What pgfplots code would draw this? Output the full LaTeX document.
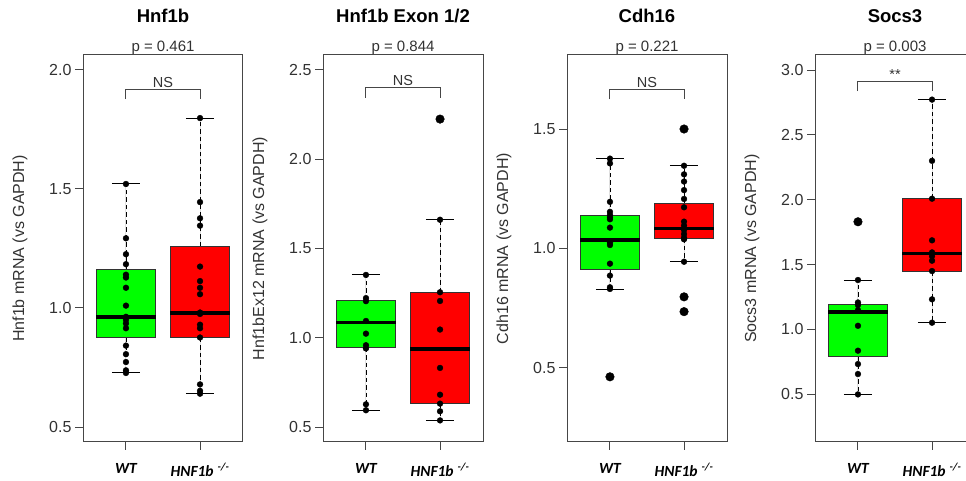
\documentclass[border=0pt]{standalone}
\usepackage{pgfplots}
\pgfplotsset{compat=1.18}
\usepgfplotslibrary{statistics}
\usepackage{fontspec}
\setmainfont{Liberation Sans}
\newfontfamily\carlito{Carlito}

\definecolor{wtgreen}{RGB}{0,255,0}
\definecolor{kored}{RGB}{255,0,0}
\definecolor{framegray}{RGB}{70,70,70}
\definecolor{txtgray}{RGB}{50,50,50}

\pgfplotsset{
  panel/.style={
    scale only axis, width=160pt, height=387pt,
    anchor=south west,
    xmin=0.42, xmax=2.58,
    xtick={1,2},
    xticklabels={WT, HNF1b\hspace{4pt}\textsuperscript{-/-}},
    xtick pos=left, ytick pos=left,
    tick align=outside, major tick length=8pt,
    axis line style={framegray, line width=1pt},
    every tick/.style={framegray, line width=1pt},
    yticklabel style={txtgray, font=\fontsize{16}{16}\selectfont,
      /pgf/number format/fixed, /pgf/number format/fixed zerofill,
      /pgf/number format/precision=1, /pgf/number format/assume math mode=true},
    xticklabel style={black, font=\carlito\bfseries\itshape\fontsize{15.5}{16}\selectfont, yshift=-10pt},
    every axis y label/.style={at={([xshift=-63pt]axis description cs:0,0.5)},
      rotate=90, anchor=center, font=\fontsize{16}{16}\selectfont, txtgray},
    clip=false,
    boxplot/draw direction=y,
    boxplot/every whisker/.style={black, line width=0.9pt, dash pattern=on 4.5pt off 3pt},
    boxplot/every median/.style={black, line width=3.5pt},
    boxplot/every box/.style={draw=black!80, line width=0.9pt},
  },
  cap/.style={black, line width=1pt, no marks, solid},
  pts/.style={only marks, mark=*, mark size=2.9pt, black},
  outl/.style={only marks, mark=*, mark size=4.3pt, black},
  bracket/.style={framegray, line width=1pt, no marks},
}
\newcommand{\paneltitle}[2]{%
  \node[anchor=base, font=\bfseries\fontsize{18.5}{20}\selectfont] at ([yshift=32pt]rel axis cs:0.5,1) {#1};
  \node[anchor=base, font=\fontsize{15}{16}\selectfont, txtgray] at ([yshift=3.5pt]rel axis cs:0.5,1) {#2};}

\begin{document}
\begin{tikzpicture}
\useasboundingbox (0,0) rectangle (966pt,481pt);

% ---- Hnf1b
\begin{axis}[panel, at={(83pt,39pt)}, ymin=0.437, ymax=2.063, ytick={0.5,1,1.5,2},
  ylabel={Hnf1b mRNA (vs GAPDH)}]
\addplot[boxplot prepared={lower whisker=0.727, lower quartile=0.876, median=0.963,
  upper quartile=1.162, upper whisker=1.521, draw position=1, box extend=0.8, whisker extend=0},
  fill=wtgreen] coordinates {};
\addplot[boxplot prepared={lower whisker=0.640, lower quartile=0.876, median=0.980,
  upper quartile=1.259, upper whisker=1.798, draw position=2, box extend=0.8, whisker extend=0},
  fill=kored] coordinates {};
\addplot[cap] coordinates {(0.81,1.521) (1.19,1.521)};
\addplot[cap] coordinates {(0.81,0.727) (1.19,0.727)};
\addplot[cap] coordinates {(1.81,1.798) (2.19,1.798)};
\addplot[cap] coordinates {(1.81,0.640) (2.19,0.640)};
\addplot[pts] coordinates {(1,1.521) (1,1.293) (1,1.226) (1,1.184) (1,1.140) (1,1.128)
  (1,1.085) (1,1.010) (1,0.963) (1,0.950) (1,0.935) (1,0.915) (1,0.842) (1,0.806)
  (1,0.773) (1,0.738) (1,0.727)};
\addplot[pts] coordinates {(2,1.798) (2,1.445) (2,1.377) (2,1.346) (2,1.174) (2,1.113)
  (2,1.085) (2,1.058) (2,0.981) (2,0.975) (2,0.930) (2,0.915) (2,0.876) (2,0.679)
  (2,0.652) (2,0.640)};
\addplot[bracket] coordinates {(1,1.878) (1,1.919) (2,1.919) (2,1.878)};
\node[anchor=base, font=\fontsize{14.5}{15}\selectfont, txtgray] at ([yshift=2pt]axis cs:1.5,1.919) {NS};
\paneltitle{Hnf1b}{p = 0.461}
\end{axis}

% ---- Hnf1b Exon 1/2
\begin{axis}[panel, at={(323pt,39pt)}, ymin=0.416, ymax=2.584, ytick={0.5,1,1.5,2,2.5},
  ylabel={Hnf1bEx12 mRNA (vs GAPDH)}]
\addplot[boxplot prepared={lower whisker=0.594, lower quartile=0.945, median=1.085,
  upper quartile=1.210, upper whisker=1.352, draw position=1, box extend=0.8, whisker extend=0},
  fill=wtgreen] coordinates {};
\addplot[boxplot prepared={lower whisker=0.537, lower quartile=0.631, median=0.936,
  upper quartile=1.255, upper whisker=1.661, draw position=2, box extend=0.8, whisker extend=0},
  fill=kored] coordinates {};
\addplot[cap] coordinates {(0.81,1.352) (1.19,1.352)};
\addplot[cap] coordinates {(0.81,0.594) (1.19,0.594)};
\addplot[cap] coordinates {(1.81,1.661) (2.19,1.661)};
\addplot[cap] coordinates {(1.81,0.537) (2.19,0.537)};
\addplot[pts] coordinates {(1,1.352) (1,1.222) (1,1.205) (1,1.094) (1,1.023) (1,0.958)
  (1,0.940) (1,0.627) (1,0.594)};
\addplot[pts] coordinates {(2,1.661) (2,1.255) (2,1.206) (2,1.046) (2,0.831) (2,0.681)
  (2,0.631) (2,0.588) (2,0.537)};
\addplot[outl] coordinates {(2,2.225)};
\addplot[bracket] coordinates {(1,2.345) (1,2.401) (2,2.401) (2,2.345)};
\node[anchor=base, font=\fontsize{14.5}{15}\selectfont, txtgray] at ([yshift=2pt]axis cs:1.5,2.401) {NS};
\paneltitle{Hnf1b Exon 1/2}{p = 0.844}
\end{axis}

% ---- Cdh16
\begin{axis}[panel, at={(567pt,39pt)}, ymin=0.189, ymax=1.810, ytick={0.5,1,1.5},
  ylabel={Cdh16 mRNA (vs GAPDH)}]
\addplot[boxplot prepared={lower whisker=0.828, lower quartile=0.910, median=1.035,
  upper quartile=1.140, upper whisker=1.376, draw position=1, box extend=0.8, whisker extend=0},
  fill=wtgreen] coordinates {};
\addplot[boxplot prepared={lower whisker=0.944, lower quartile=1.042, median=1.084,
  upper quartile=1.190, upper whisker=1.346, draw position=2, box extend=0.8, whisker extend=0},
  fill=kored] coordinates {};
\addplot[cap] coordinates {(0.81,1.376) (1.19,1.376)};
\addplot[cap] coordinates {(0.81,0.828) (1.19,0.828)};
\addplot[cap] coordinates {(1.81,1.346) (2.19,1.346)};
\addplot[cap] coordinates {(1.81,0.944) (2.19,0.944)};
\addplot[pts] coordinates {(1,1.376) (1,1.356) (1,1.195) (1,1.153) (1,1.140) (1,1.130)
  (1,1.122) (1,1.087) (1,1.024) (1,1.014) (1,0.936) (1,0.886) (1,0.837) (1,0.830)};
\addplot[outl] coordinates {(1,0.462)};
\addplot[pts] coordinates {(2,1.346) (2,1.310) (2,1.280) (2,1.244) (2,1.207) (2,1.172)
  (2,1.112) (2,1.095) (2,1.077) (2,1.060) (2,1.045) (2,1.038) (2,0.944)};
\addplot[outl] coordinates {(2,1.500) (2,0.797) (2,0.735)};
\addplot[bracket] coordinates {(1,1.624) (1,1.666) (2,1.666) (2,1.624)};
\node[anchor=base, font=\fontsize{14.5}{15}\selectfont, txtgray] at ([yshift=2pt]axis cs:1.5,1.666) {NS};
\paneltitle{Cdh16}{p = 0.221}
\end{axis}

% ---- Socs3
\begin{axis}[panel, at={(815pt,39pt)}, ymin=0.132, ymax=3.116, ytick={0.5,1,1.5,2,2.5,3},
  ylabel={Socs3 mRNA (vs GAPDH)}]
\addplot[boxplot prepared={lower whisker=0.499, lower quartile=0.789, median=1.136,
  upper quartile=1.196, upper whisker=1.381, draw position=1, box extend=0.8, whisker extend=0},
  fill=wtgreen] coordinates {};
\addplot[boxplot prepared={lower whisker=1.052, lower quartile=1.450, median=1.587,
  upper quartile=2.008, upper whisker=2.772, draw position=2, box extend=0.8, whisker extend=0},
  fill=kored] coordinates {};
\addplot[cap] coordinates {(0.81,1.381) (1.19,1.381)};
\addplot[cap] coordinates {(0.81,0.499) (1.19,0.499)};
\addplot[cap] coordinates {(1.81,2.772) (2.19,2.772)};
\addplot[cap] coordinates {(1.81,1.052) (2.19,1.052)};
\addplot[pts] coordinates {(1,1.381) (1,1.208) (1,1.188) (1,1.149) (1,1.028) (1,0.836)
  (1,0.733) (1,0.656) (1,0.499)};
\addplot[outl] coordinates {(1,1.830)};
\addplot[pts] coordinates {(2,2.772) (2,2.300) (2,2.008) (2,1.687) (2,1.594) (2,1.565)
  (2,1.530) (2,1.450) (2,1.232) (2,1.052)};
\addplot[bracket] coordinates {(1,2.838) (1,2.915) (2,2.915) (2,2.838)};
\node[anchor=base, font=\fontsize{14.5}{15}\selectfont, txtgray] at ([yshift=2pt]axis cs:1.5,2.915) {**};
\paneltitle{Socs3}{p = 0.003}
\end{axis}
\end{tikzpicture}
\end{document}
